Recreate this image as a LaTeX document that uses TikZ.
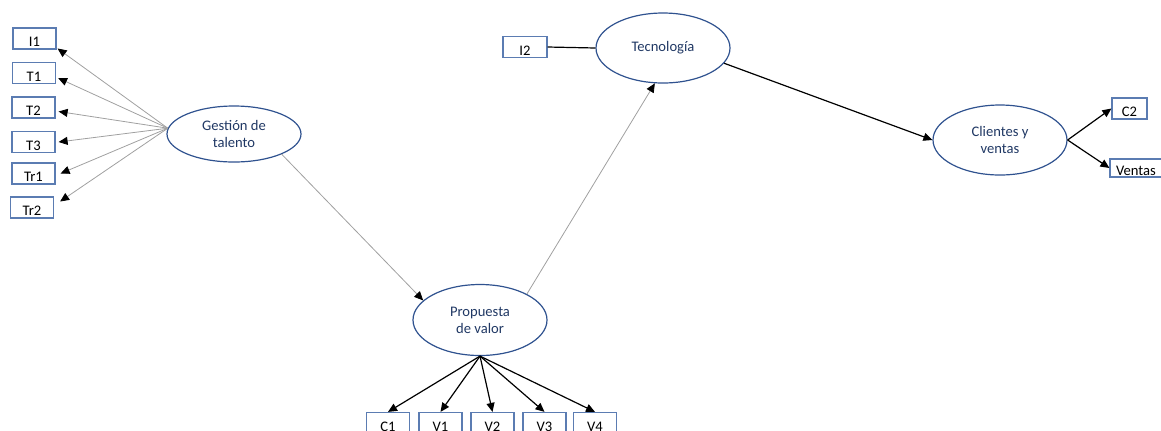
\documentclass[tikz,border=0pt]{standalone}
\usepackage{fontspec}
\setmainfont{Carlito}
\usetikzlibrary{arrows.meta}
\usetikzlibrary{shapes.geometric}
\definecolor{azulosc}{RGB}{47,82,143}
\definecolor{azultxt}{RGB}{32,56,100}
\definecolor{azulcaja}{RGB}{91,124,178}
\definecolor{grislinea}{RGB}{160,160,160}

\begin{document}
\begin{tikzpicture}[x=0.5pt,y=-0.5pt,
  latente/.style={ellipse,draw=azulosc,line width=0.6pt,inner sep=0pt,minimum width=67pt,
    minimum height=35pt,align=center,text=azultxt,font=\fontsize{7.3}{8.4}\selectfont},
  caja/.style={rectangle,draw=azulcaja,line width=0.6pt,inner sep=0pt,minimum width=21.5pt,
    minimum height=10.5pt,text height=8pt,text depth=0pt,font=\fontsize{7.3}{8.4}\selectfont},
  flecha/.style={line width=0.6pt,-{Triangle[length=4.5pt,width=4pt]}},
  flechagris/.style={grislinea,line width=0.4pt,-{Triangle[black,length=4.5pt,width=4pt]}}]
\useasboundingbox (0,0) rectangle (1161,430);
\clip (0,0) rectangle (1161,430);
% latent variables
\node[latente,minimum height=28pt] (gt) at (234,134) {Gestión de\\talento};
\node[latente,minimum height=35.5pt] (pv) at (480,320) {Propuesta\\de valor};
\node[latente] (tec) at (663,48) {Tecnología};
\node[latente] (cv) at (1000,140) {Clientes y\\ventas};
% indicators of Gestion de talento
\node[caja] (i1) at (34.5,38.5) {I1};
\node[caja] (t1) at (34,73) {T1};
\node[caja] (t2) at (33.5,107.5) {T2};
\node[caja] (t3) at (33.5,142) {T3};
\node[caja] (tr1) at (33.5,173.5) {Tr1};
\node[caja] (tr2) at (32,207.5) {Tr2};
% indicators of Propuesta de valor
\node[caja] (c1) at (388,423) {C1};
\node[caja] (v1) at (440.5,423) {V1};
\node[caja] (v2) at (492.5,423) {V2};
\node[caja] (v3) at (544.5,423) {V3};
\node[caja] (v4) at (595,423) {V4};
% the other indicators
\node[caja,minimum width=22pt] (i2) at (525,47) {I2};
\node[caja,minimum width=17.5pt] (c2) at (1129.5,108.5) {C2};
\node[caja,minimum width=32pt,minimum height=9pt,text height=7pt] (ventas) at (1142,168) {\hspace*{-6pt}Ventas};
% loadings
\foreach \b/\dx/\dy in {i1/1/10, t1/2/5, t2/3/4, t3/3/0, tr1/5/0, tr2/6/-6}
  \draw[flechagris] (gt.175) -- ([shift={(\dx,\dy)}]\b.east);
\foreach \b in {c1,v1,v2,v3,v4}
  \draw[flecha] (pv.south) -- (\b.north);
\draw[line width=0.6pt] (i2.east) -- (tec.west);
\draw[flecha] (cv.east) -- (c2.west);
\draw[flecha] (cv.east) -- (ventas.west);
% paths
\draw[flechagris] (gt.-23) -- (pv.161);
\draw[flechagris] (pv.29) -- (tec.-103);
\draw[flecha] (tec.-14) -- (cv.west);
\end{tikzpicture}
\end{document}
